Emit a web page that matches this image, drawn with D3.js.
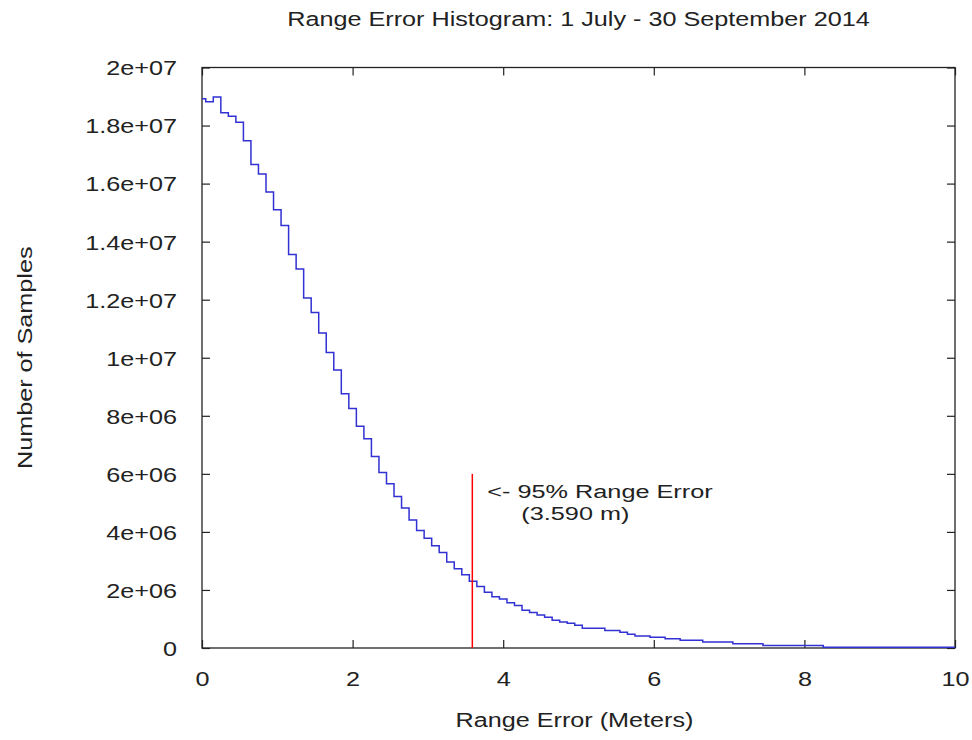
<!DOCTYPE html>
<html>
<head>
<meta charset="utf-8">
<script src="https://cdn.jsdelivr.net/npm/d3@7"></script>
<style>
  body { margin: 0; background: #fff; }
  svg { display: block; font-family: "Liberation Sans", Arial, sans-serif; }
  text { fill: #222; }
</style>
</head>
<body>
<svg></svg>
<script>
const title = "Range Error Histogram: 1 July - 30 September 2014"
const xLabel = "Range Error (Meters)",
      yLabel = "Number of Samples"

// histogram counts, one per 0.1 m bin centred on 0.0, 0.1, ... 10.0
const binWidth = 0.1
const counts = [
  18.92e6, 18.82e6, 18.98e6, 18.44e6, 18.32e6, 18.11e6, 17.48e6, 16.66e6, 16.33e6, 15.71e6,
  15.10e6, 14.56e6, 13.56e6, 13.06e6, 12.06e6, 11.56e6, 10.85e6, 10.18e6, 9.58e6, 8.76e6,
  8.25e6, 7.64e6, 7.21e6, 6.60e6, 6.05e6, 5.66e6, 5.22e6, 4.82e6, 4.41e6, 4.05e6,
  3.78e6, 3.52e6, 3.29e6, 2.96e6, 2.73e6, 2.52e6, 2.30e6, 2.12e6, 1.92e6, 1.77e6,
  1.69e6, 1.56e6, 1.46e6, 1.30e6, 1.22e6, 1.14e6, 1.06e6, 0.955e6, 0.90e6, 0.85e6,
  0.78e6, 0.68e6, 0.68e6, 0.68e6, 0.60e6, 0.60e6, 0.54e6, 0.47e6, 0.41e6, 0.41e6,
  0.37e6, 0.37e6, 0.32e6, 0.32e6, 0.27e6, 0.27e6, 0.27e6, 0.21e6, 0.21e6, 0.21e6,
  0.21e6, 0.15e6, 0.15e6, 0.15e6, 0.15e6, 0.09e6, 0.09e6, 0.09e6, 0.09e6, 0.09e6,
  0.09e6, 0.09e6, 0.09e6, 0.03e6, 0.03e6, 0.03e6, 0.03e6, 0.03e6, 0.03e6, 0.03e6,
  0.03e6, 0.03e6, 0.03e6, 0.03e6, 0.03e6, 0.03e6, 0.03e6, 0.03e6, 0.03e6, 0.03e6,
  0.03e6
]

const pct95 = 3.590,
      markerTop = 6e6,
      noteLines = ["<- 95% Range Error", "(3.590 m)"]

const xTicks = [0, 2, 4, 6, 8, 10],
      yTicks = [0, 2e6, 4e6, 6e6, 8e6, 1e7, 1.2e7, 1.4e7, 1.6e7, 1.8e7, 2e7]

const width = 972, height = 740
const margin = {top: 67.5, right: 17, bottom: 92, left: 202}
const fontSize = 21, stretch = 1.2   // the original's glyphs run wide

const svg = d3.select("svg")
    .attr("width", width)
    .attr("height", height)
    .style("font-size", fontSize + "px")

const x = d3.scaleLinear().domain([0, 10]).range([margin.left, width - margin.right])
const y = d3.scaleLinear().domain([0, 2e7]).range([height - margin.bottom, margin.top])

const gfmt = v => {
  if (v === 0) return "0"
  const e = Math.floor(Math.log10(v))
  const m = +(v / Math.pow(10, e)).toFixed(3)
  return `${m}e+${String(e).padStart(2, "0")}`
}

// ticks point inward on all four sides, like gnuplot
const axes = [
  {axis: d3.axisBottom(x).tickValues(xTicks).tickFormat(d3.format("d")), at: `translate(0,${y(0)})`},
  {axis: d3.axisTop(x).tickValues(xTicks).tickFormat(""), at: `translate(0,${y(2e7)})`},
  {axis: d3.axisLeft(y).tickValues(yTicks).tickFormat(gfmt), at: `translate(${x(0)},0)`},
  {axis: d3.axisRight(y).tickValues(yTicks).tickFormat(""), at: `translate(${x(10)},0)`}
]

axes.forEach((a, i) => {
  const g = svg.append("g")
      .attr("transform", a.at)
      .call(a.axis.tickSize(-8).tickPadding(0))
  g.select(".domain").remove()
  g.selectAll(".tick line").attr("stroke", "#222").attr("stroke-width", 1.2)
  g.selectAll("text").attr("fill", "#222").style("font-size", fontSize + "px").attr("font-family", null)
  if (i === 0) g.selectAll("text").attr("y", 0).attr("dy", null)
      .attr("transform", `translate(0,38) scale(${stretch},1)`)
  if (i === 2) g.selectAll("text").attr("x", 0).attr("dy", "0.35em")
      .attr("transform", `translate(-25,0) scale(${stretch},1)`)
})

svg.append("rect")
    .attr("x", x(0)).attr("y", y(2e7))
    .attr("width", x(10) - x(0)).attr("height", y(0) - y(2e7))
    .attr("fill", "none").attr("stroke", "#222").attr("stroke-width", 1.3)

// histeps: each bin spans its centre +/- half a bin, clipped to the axis range
const steps = []
counts.forEach((c, i) => {
  const centre = i * binWidth
  steps.push([Math.max(0, centre - binWidth / 2), c])
  steps.push([Math.min(10, centre + binWidth / 2), c])
})

const line = d3.line().x(d => x(d[0])).y(d => y(d[1]))

svg.append("path")
    .datum(steps)
    .attr("d", line)
    .attr("fill", "none")
    .attr("stroke", "#3131d4")
    .attr("stroke-width", 1.5)

svg.append("line")
    .attr("x1", x(pct95)).attr("x2", x(pct95))
    .attr("y1", y(0)).attr("y2", y(markerTop))
    .attr("stroke", "#f00")
    .attr("stroke-width", 1.5)

// the label sits a little smaller, stretched wider to keep its length
const note = svg.append("g").style("font-size", "19px")
note.append("text")
    .attr("transform", `translate(${x(pct95) + 15},${y(markerTop) + 24.5}) scale(1.33,1)`)
    .text(noteLines[0])
note.append("text")
    .attr("transform", `translate(${x(pct95) + 49},${y(markerTop) + 46.5}) scale(1.33,1)`)
    .text(noteLines[1])

svg.append("text")
    .attr("text-anchor", "middle")
    .attr("transform", `translate(${(x(0) + x(10)) / 2},26) scale(${stretch},1)`)
    .text(title)

svg.append("text")
    .attr("text-anchor", "middle")
    .attr("transform", `translate(${(x(0) + x(10)) / 2 - 4},727) scale(${stretch},1)`)
    .text(xLabel)

svg.append("text")
    .attr("text-anchor", "middle")
    .attr("transform", `translate(31.5,${(y(0) + y(2e7)) / 2}) rotate(-90) scale(${stretch},1)`)
    .text(yLabel)
</script>
</body>
</html>
